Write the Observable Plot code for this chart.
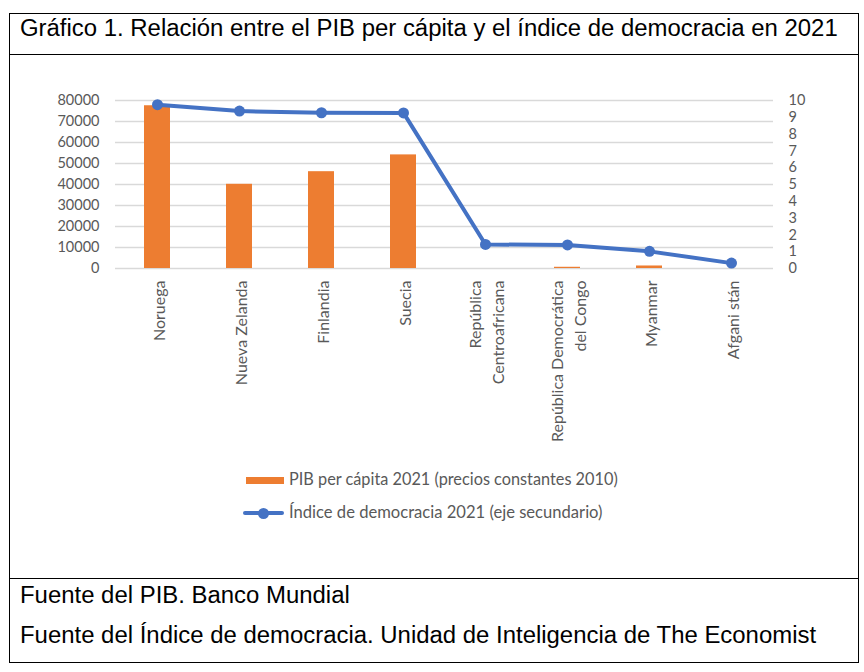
<!DOCTYPE html>
<html>
<head>
<meta charset="utf-8">
<script src="https://cdn.jsdelivr.net/npm/d3@7"></script>
<script src="https://cdn.jsdelivr.net/npm/@observablehq/plot@0.6"></script>
<style>
  html, body { margin: 0; padding: 0; background: #fff; }
  #page { position: relative; width: 864px; height: 672px; overflow: hidden; font-family: "Liberation Sans", Arial, sans-serif; }
  .box { position: absolute; border: 1.5px solid #000; box-sizing: border-box; }
  .hline { position: absolute; height: 0; border-top: 1.5px solid #000; }
  .t { position: absolute; white-space: nowrap; color: #000; font-size: 23px; line-height: 1; transform: scaleX(1.04); transform-origin: 0 0; }
  #chart { position: absolute; left: 0; top: 55px; }
  .leg { position: absolute; font-family: Lato, sans-serif; color: #595959; white-space: nowrap; line-height: 1; }
</style>
</head>
<body>
<div id="page">
  <div class="box" style="left:9px; top:13px; width:850px; height:650px;"></div>
  <div class="hline" style="left:9px; top:54px; width:850px;"></div>
  <div class="hline" style="left:9px; top:578px; width:850px;"></div>
  <div class="t" id="title" style="left:20px; top:17px;">Gráfico 1. Relación entre el PIB per cápita y el índice de democracia en 2021</div>
  <div id="chart"></div>
  <div id="legend"></div>
  <div class="t" style="left:20px; top:584px;">Fuente del PIB. Banco Mundial</div>
  <div class="t" style="left:20px; top:624px;">Fuente del Índice de democracia. Unidad de Inteligencia de The Economist</div>
</div>
<script>
// ---- data ----
const countries = ["Noruega", "Nueva Zelanda", "Finlandia", "Suecia", "República Centroafricana", "República Democrática del Congo", "Myanmar", "Afganistán"];
const countryLabels = ["Noruega", "Nueva Zelanda", "Finlandia", "Suecia", "República\nCentroafricana", "República Democrática\ndel Congo", "Myanmar", "Afgani stán"];
const pibPerCapita = [77500, 40100, 46100, 54100, 0, 580, 1200, 0];
const indiceDemocracia = [9.75, 9.37, 9.27, 9.26, 1.43, 1.40, 1.02, 0.32];
const leftTicks = [0, 10000, 20000, 30000, 40000, 50000, 60000, 70000, 80000];
const rightTicks = [0, 1, 2, 3, 4, 5, 6, 7, 8, 9, 10];
const legendLabels = ["PIB per cápita 2021 (precios constantes 2010)", "Índice de democracia 2021 (eje secundario)"];

const orange = "#ED7D31";
const blue = "#4472C4";
const gray = "#595959";
const ratio = 80000 / 10; // secondary axis mapping

const rows = countries.map((c, i) => ({country: c, pib: pibPerCapita[i], dem: indiceDemocracia[i]}));
const labelOf = new Map(countries.map((c, i) => [c, countryLabels[i]]));

const chart = Plot.plot({
  width: 864,
  height: 400,
  marginTop: 45,
  marginBottom: 187,
  marginLeft: 115,
  marginRight: 91,
  style: {fontFamily: "Lato, sans-serif", background: "transparent", overflow: "visible"},
  x: {domain: countries, paddingInner: 0.68, paddingOuter: 0.34},
  y: {domain: [0, 80000]},
  marks: [
    Plot.gridY(leftTicks, {stroke: "#d9d9d9", strokeOpacity: 1, strokeWidth: 1.3}),
    Plot.barY(rows, {x: "country", y: "pib", fill: orange}),
    Plot.line(rows, {x: "country", y: d => d.dem * ratio, stroke: blue, strokeWidth: 4, strokeLinejoin: "round"}),
    Plot.dot(rows, {x: "country", y: d => d.dem * ratio, r: 5.5, fill: blue, stroke: "none"}),
    Plot.axisY(leftTicks, {anchor: "left", tickSize: 0, tickPadding: 16, tickFormat: d => String(d), fontSize: 14.5, fill: gray, label: null}),
    Plot.axisY(rightTicks.map(v => v * ratio), {anchor: "right", tickSize: 0, tickPadding: 15, tickFormat: d => String(Math.round(d / ratio)), fontSize: 14.5, fill: gray, label: null}),
    Plot.axisX({tickRotate: -90, tickSize: 0, tickPadding: 12, tickFormat: d => labelOf.get(d), fontSize: 16, lineHeight: 1.4, fill: gray, label: null})
  ]
});
document.getElementById("chart").appendChild(chart);

// ---- legend ----
const legend = document.getElementById("legend");
legend.innerHTML = `
  <div style="position:absolute; left:246px; top:477px; width:38px; height:7px; background:${orange};"></div>
  <div class="leg" style="left:289px; top:471px; font-size:16.3px;">${legendLabels[0]}</div>
  <div style="position:absolute; left:243px; top:511px; width:41px; height:4px; background:${blue}; border-radius:2px;"></div>
  <div style="position:absolute; left:258px; top:508px; width:11px; height:11px; background:${blue}; border-radius:50%;"></div>
  <div class="leg" style="left:289px; top:504px; font-size:16.6px;">${legendLabels[1]}</div>
`;
</script>
</body>
</html>
